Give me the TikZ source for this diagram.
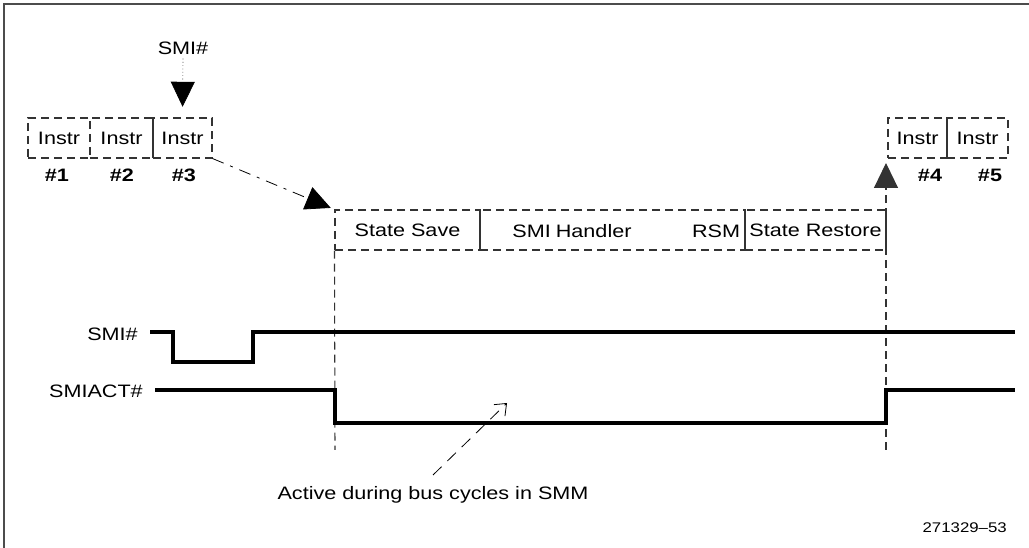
\documentclass[tikz,border=0pt]{standalone}
\usepackage{fontspec}
\setmainfont{Liberation Sans}[FakeStretch=1.2]
\usetikzlibrary{arrows.meta}
\begin{document}
\begin{tikzpicture}[x=0.75pt,y=-0.75pt,
  txt/.style={inner sep=0pt,font=\fontsize{13.5}{16}\selectfont},
  bold/.style={txt,font=\fontsize{13.5}{16}\selectfont\bfseries},
  small/.style={inner sep=0pt,font=\fontsize{10.5}{13}\selectfont},
  dsh/.style={line width=0.8pt,dash pattern=on 6pt off 3.75pt,draw=black!80},
  instr/.style={txt,dsh,draw,minimum height=30pt,inner sep=0pt},
  wave/.style={line width=2.4pt,line join=miter},
  bigtri/.style={-{Triangle[length=18.75pt,width=18pt]}},
  frame/.style={line width=1.5pt,draw=black!70}
]
\useasboundingbox (0,0) rectangle (1029,548);
% frame (top and left only)
\draw[frame] (1029,4) -- (4,4) -- (4,548);

% instructions before SMI
\node[instr,minimum width=46.5pt] (i1) at (59,138) {Instr};
\node[instr,minimum width=47.25pt] (i2) at (121.5,138) {Instr};
\node[instr,minimum width=44.25pt] (i3) at (182.5,138) {Instr};
\node[bold] (n1) at (57,175) {\#1};
\node[bold] (n2) at (122,175) {\#2};
\node[bold] (n3) at (184,175) {\#3};

% instructions after RSM
\node[instr,minimum width=44.25pt] (i4) at (917.5,138) {Instr};
\node[instr,minimum width=45.75pt] (i5) at (977.5,138) {Instr};
\node[bold] (n4) at (930,175) {\#4};
\node[bold] (n5) at (990,175) {\#5};

% SMI# arrow on top
\node[txt] (smitop) at (183,48) {SMI\#};
\draw[line width=0.5pt,dotted,bigtri,shorten >=8pt,shorten <=3pt] (smitop.south) -- (i3.north);

% SMM boxes
\node[instr,minimum width=108.75pt] (ss) at (407.5,230) {State Save};
\node[instr,minimum width=198.75pt] (hd) at (612.5,230) {};
\node[txt] (hdt) at (572,231) {SMI\hspace{3.75pt}Handler};
\node[txt] (rsm) at (716,231) {RSM};
\node[instr,minimum width=105.75pt] (sr) at (815.5,230) {State Restore};

% diagonal arrow into SMM
\draw[line width=0.6pt,dash pattern=on 9pt off 5.25pt on 2.25pt off 5.25pt,bigtri,shorten >=3pt]
  (i3.south east) -- (ss.north west);

% vertical dashed markers
\coordinate (vl) at (335,450);
\coordinate (vr) at (886,450);
\coordinate (uptip) at (886,163);
\draw[dsh] (ss.south west) -- (vl);
\draw[dsh,bigtri] (vr) -- (uptip);

% signals
\node[txt,anchor=east] (lsmi) at (138,334) {SMI\#};
\node[txt,anchor=east] (lact) at (143,391) {SMIACT\#};
\coordinate (smiend) at (1015,332);
\coordinate (actend) at (1015,390);
\draw[wave] (150,332) -- (173,332) -- (173,362) -- (253,362) -- (253,332) -- (smiend);
\draw[wave] (155,390) -- (335,390) -- (335,423) -- (886,423) -- (886,390) -- (actend);

% annotation
\node[txt] (act) at (433,495) {Active during bus cycles in SMM};
\coordinate (actfrom) at (433,475);
\coordinate (acttip) at (507,403);
\draw[line width=0.6pt,dash pattern=on 9pt off 6pt,-{Straight Barb[length=7.5pt,width=12pt,line width=0.6pt]}]
  (actfrom) -- (acttip);

\node[small,anchor=east] (fig) at (1007,528) {271329--53};
\end{tikzpicture}
\end{document}
